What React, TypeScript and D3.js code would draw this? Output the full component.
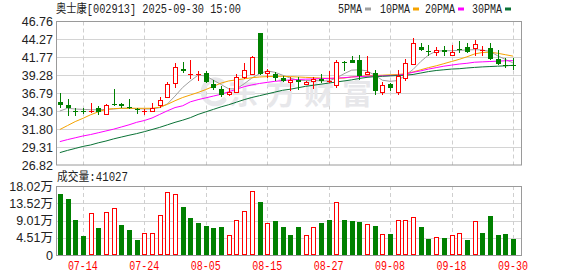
import React from 'react';
import * as d3 from 'd3';

const dates = [
  '07-09','07-10','07-11','07-14','07-15','07-16','07-17','07-18','07-21','07-22','07-23','07-24','07-25','07-28','07-29','07-30','07-31',
  '08-01','08-04','08-05','08-06','08-07','08-08','08-11','08-12','08-13','08-14','08-15','08-18','08-19','08-20','08-21','08-22','08-25','08-26','08-27','08-28','08-29',
  '09-01','09-02','09-03','09-04','09-05','09-08','09-09','09-10','09-11','09-12','09-15','09-16','09-17','09-18','09-19','09-22','09-23','09-24','09-25','09-26','09-29','09-30',
];

const openP = [35.6,35.1,34.35,34.35,34.17,34.8,33.9,35.33,35.25,34.87,34.6,34.22,34.3,35.1,36.25,38.23,40.21,39.29,39.33,39.61,
  38.08,37.4,36.75,36.95,39.1,39.5,45.15,39.56,39.47,38.9,38.4,38.6,38.05,38.45,38.75,38.4,37.9,41.15,41.36,41.36,
  39.47,39.61,36.9,38.09,37.0,38.92,40.9,43.21,42.61,42.52,42.75,42.15,42.93,43.21,43.07,42.7,43.07,41.6,40.76,40.76];
const highP = [36.85,35.95,34.7,34.77,35.47,35.03,35.35,37.33,35.47,35.93,34.77,34.54,35.47,36.2,38.37,40.99,41.13,41.36,39.84,39.84,
  38.6,37.8,37.55,39.4,41.0,41.91,45.15,40.2,39.8,39.25,39.1,39.1,38.5,39.1,39.4,39.9,41.45,41.22,41.95,42.14,
  41.91,40.03,38.37,38.23,40.03,41.59,44.45,43.76,43.53,43.16,43.3,43.53,43.99,43.76,44.22,43.3,43.76,42.84,41.68,41.68];
const lowP = [34.8,33.6,33.62,33.94,33.98,33.8,33.76,34.95,34.77,34.6,33.94,33.76,34.22,34.77,36.16,37.53,39.61,38.83,38.46,38.23,
  37.3,36.25,36.45,36.8,38.75,39.3,39.3,38.95,38.5,38.35,37.15,37.2,37.9,37.4,38.2,38.25,37.5,39.84,40.95,38.69,
  39.3,36.6,36.6,37.08,36.6,38.46,40.76,42.61,41.91,41.91,41.91,41.91,42.38,42.38,41.97,41.91,41.45,40.67,40.3,40.07];
const closeP = [35.1,34.7,34.25,34.2,34.3,34.15,35.2,35.15,34.95,34.72,34.48,34.3,34.77,35.8,38.09,40.4,39.84,39.47,39.47,38.37,
  37.5,36.6,36.9,39.0,40.07,41.78,39.45,39.88,38.9,38.45,38.68,38.35,38.35,38.8,38.45,38.55,41.2,41.0,41.04,39.15,
  39.7,37.08,37.96,37.54,39.15,40.99,43.76,42.84,42.52,42.8,42.47,42.47,42.8,42.52,43.62,42.84,41.6,40.85,40.67,40.6];

const ma5 = [34.33,34.7,34.6,34.55,34.5,34.5,34.55,34.6,34.7,34.7,34.65,34.6,34.6,34.8,35.3,36.4,37.6,38.5,39.3,39.2,
  38.6,38.0,37.4,37.4,38.1,38.9,39.5,39.9,39.7,39.3,38.9,38.6,38.55,38.6,38.5,38.5,38.9,39.5,40.0,40.05,
  39.9,39.3,38.6,38.45,38.55,39.3,40.1,41.2,42.1,42.65,42.7,42.7,42.75,42.8,42.85,42.8,42.6,42.0,41.5,41.0];
const ma10 = [31.75,32.3,32.85,33.3,33.8,34.2,34.55,34.65,34.7,34.7,34.7,34.7,34.7,34.85,35.25,35.75,36.2,36.55,36.9,37.3,
  37.75,38.2,38.5,38.65,38.8,38.95,39.05,39.1,39.15,39.15,39.1,39.05,39.0,38.95,38.9,38.85,38.85,38.9,39.05,39.15,
  39.2,39.25,39.3,39.35,39.4,39.5,39.75,40.05,40.35,40.6,40.9,41.2,41.5,41.85,42.25,42.45,42.5,42.35,42.15,41.95];
const ma20 = [30.07,30.35,30.6,30.85,31.05,31.3,31.55,31.8,32.1,32.4,32.75,33.0,33.35,33.85,34.35,34.8,35.05,35.6,35.9,36.15,
  36.4,36.65,37.0,37.35,37.7,37.95,38.15,38.3,38.45,38.55,38.65,38.7,38.75,38.78,38.82,38.86,38.9,38.95,39.05,39.1,
  39.15,39.2,39.2,39.25,39.3,39.45,39.7,39.9,40.15,40.35,40.55,40.7,40.85,40.95,41.1,41.15,41.2,41.25,41.3,41.32];
const ma30 = [28.54,28.85,29.12,29.4,29.6,29.9,30.15,30.45,30.7,30.95,31.18,31.45,31.75,32.05,32.4,32.75,33.05,33.4,33.85,34.2,
  34.55,34.9,35.2,35.55,35.9,36.2,36.45,36.7,36.95,37.2,37.35,37.55,37.75,37.9,38.05,38.2,38.35,38.5,38.65,38.85,
  39.0,39.1,39.15,39.2,39.25,39.3,39.4,39.6,39.8,39.95,40.05,40.15,40.2,40.3,40.38,40.45,40.5,40.55,40.6,40.67];

// volume in 万手
const volume = [15.93,14.62,9.14,4.96,10.88,6.96,11.14,12.19,7.83,6.53,3.92,5.66,5.66,10.36,16.54,15.84,12.54,9.66,8.36,7.57,
  7.05,7.31,5.14,9.05,11.4,16.63,13.84,8.36,8.88,7.31,5.22,7.31,5.14,7.23,8.36,9.14,13.75,9.14,8.88,8.62,
  8.1,7.57,5.48,5.48,9.05,9.05,9.84,7.31,4.18,4.79,4.44,5.14,5.66,3.92,8.79,5.75,10.18,5.22,5.48,4.1];
const volumeDir = 'GGGGRGRRGGGRRRRRGGGGGGRRRRGRGGGGRRGGRGGGRGRGRRRGGRGRRGRGGGGG'.split('');

const priceTicks = [46.76, 44.27, 41.77, 39.28, 36.79, 34.30, 31.80, 29.31, 26.82];
const volTicks = [18.02, 13.52, 9.01, 4.51, 0];
const xTickLabels = ['07-14','07-24','08-05','08-15','08-27','09-08','09-18','09-30'];

const legendNames = ['5PMA', '10PMA', '20PMA', '30PMA'];
const maColors = ['#a0a0a0', '#f5a300', '#ff00ff', '#0a7236'];

const RED = '#ff0000';
const GREEN = '#008000';
const L = 56, R = 522;
const mainTop = 21.5, mainBot = 165;
const volTop = 186, volBot = 255;
const MONO = '"Liberation Mono", "Noto Sans CJK SC", monospace';
const SANS = '"Liberation Sans", Arial, "Noto Sans CJK SC", sans-serif';

export default function App() {
  const n = dates.length;
  const x = d3.scaleBand<number>().domain(d3.range(n)).range([L, L + 7.68 * n]);
  const cx = (i: number) => (x(i) as number) + x.bandwidth() / 2;
  const y = d3.scaleLinear().domain([26.82, 46.76]).range([mainBot, mainTop]);
  const yv = d3.scaleLinear().domain([0, 18.02]).range([volBot, volTop]);
  const lineGen = d3.line<number>().x((_, i) => cx(i)).y((d) => y(d));
  const mas = [ma5, ma10, ma20, ma30];

  const tickIdx = xTickLabels.map((t) => dates.indexOf(t));

  const candles = d3.range(n).map((i) => {
    const o = openP[i], c = closeP[i], h = highP[i], l = lowP[i];
    const up = c >= o;
    const px = Math.round(cx(i));
    const yTop = Math.round(y(Math.max(o, c)));
    const yBot = Math.round(y(Math.min(o, c)));
    const yH = Math.round(y(h));
    const yL = Math.round(y(l));
    const col = up ? RED : GREEN;
    const bodyH = yBot - yTop;
    if (bodyH < 2) {
      return (
        <g key={i}>
          <line x1={px + 0.5} x2={px + 0.5} y1={yH} y2={yL} stroke={col} />
          <line x1={px - 2} x2={px + 3} y1={yTop + 0.5} y2={yTop + 0.5} stroke={col} />
        </g>
      );
    }
    if (up) {
      return (
        <g key={i}>
          <line x1={px + 0.5} x2={px + 0.5} y1={yH} y2={yTop} stroke={col} />
          <line x1={px + 0.5} x2={px + 0.5} y1={yBot + 1} y2={yL} stroke={col} />
          <rect x={px - 1.5} y={yTop + 0.5} width={4} height={bodyH} fill="#fff" stroke={col} />
        </g>
      );
    }
    return (
      <g key={i}>
        <line x1={px + 0.5} x2={px + 0.5} y1={yH} y2={yL} stroke={col} />
        <rect x={px - 2} y={yTop} width={5} height={bodyH} fill={col} />
      </g>
    );
  });

  const volBars = d3.range(n).map((i) => {
    const px = Math.round(cx(i));
    const top = Math.round(yv(volume[i]));
    if (volumeDir[i] === 'R') {
      return <rect key={i} x={px - 1.5} y={top + 0.5} width={4} height={volBot - top - 1} fill="#fff" stroke={RED} />;
    }
    return <rect key={i} x={px - 2} y={top} width={5} height={volBot - top} fill={GREEN} />;
  });

  const legendX = [338, 380, 425, 472];
  const legendW = [24, 30, 30, 30];

  return (
    <svg width={578} height={276} style={{ position: 'fixed', left: 0, top: 0, background: '#fff' }}>
      <rect x={0} y={0} width={578} height={276} fill="#fff" />
      {/* title */}
      <text x={56} y={13} fontFamily={MONO} fontSize={12} fill="#222" textLength={185} lengthAdjust="spacingAndGlyphs">
        奥士康[002913] 2025-09-30 15:00
      </text>
      {/* legend */}
      {legendNames.map((name, k) => (
        <g key={name}>
          <text x={legendX[k]} y={12.5} fontFamily={MONO} fontSize={12} fill="#222" textLength={legendW[k]} lengthAdjust="spacingAndGlyphs">
            {name}
          </text>
          <rect x={legendX[k] + legendW[k] + 3} y={7.5} width={6} height={3} fill={maColors[k]} />
        </g>
      ))}

      {/* main grid */}
      {priceTicks.slice(1, -1).map((t) => (
        <line key={t} x1={L} x2={R} y1={Math.round(y(t)) + 0.5} y2={Math.round(y(t)) + 0.5} stroke="#d4d4d4" />
      ))}
      {volTicks.slice(1, -1).map((t) => (
        <line key={t} x1={L} x2={R} y1={Math.round(yv(t)) + 0.5} y2={Math.round(yv(t)) + 0.5} stroke="#d4d4d4" />
      ))}
      {tickIdx.map((i) => (
        <g key={i}>
          <line x1={Math.round(cx(i)) + 0.5} x2={Math.round(cx(i)) + 0.5} y1={mainTop} y2={mainBot} stroke="#cfcfcf" strokeDasharray="4,3" />
          <line x1={Math.round(cx(i)) + 0.5} x2={Math.round(cx(i)) + 0.5} y1={volTop} y2={volBot} stroke="#cfcfcf" strokeDasharray="4,3" />
        </g>
      ))}

      {/* watermark */}
      <path d="M 222 82 A 12 12 0 1 0 224 100" fill="none" stroke="#e7e7ea" strokeWidth={5} strokeLinecap="round" />
      <text x={228} y={104} fontFamily='"Noto Sans CJK SC", sans-serif' fontWeight={700} fontSize={30} fill="#e7e7ea" textLength={144} lengthAdjust="spacing">
        东方财富
      </text>

      {/* frames */}
      <rect x={L + 0.5} y={mainTop} width={R - L - 1} height={mainBot - mainTop} fill="none" stroke="#9a9a9a" />
      <rect x={L + 0.5} y={volTop + 0.5} width={R - L - 1} height={volBot - volTop} fill="none" stroke="#9a9a9a" />

      {/* MA lines */}
      {mas.map((m, k) => (
        <path key={k} d={lineGen(m) || ''} fill="none" stroke={maColors[k]} strokeWidth={1} />
      ))}
      {/* candles */}
      {candles}
      {/* volume */}
      {volBars}

      {/* y labels */}
      {priceTicks.map((t) => (
        <text key={t} x={53} y={y(t)} dy="0.36em" textAnchor="end" fontFamily={SANS} fontSize={12.5} fill="#222">
          {t.toFixed(2)}
        </text>
      ))}
      {volTicks.map((t) => (
        <text key={t} x={53} y={yv(t)} dy="0.36em" textAnchor="end" fontFamily={SANS} fontSize={12.5} fill="#222">
          {t === 0 ? '0' : `${t.toFixed(2)}万`}
        </text>
      ))}
      <text x={57} y={181} fontFamily={MONO} fontSize={12} fill="#222" textLength={71} lengthAdjust="spacingAndGlyphs">
        成交量:41027
      </text>
      {/* x labels */}
      {tickIdx.map((i, k) => (
        <text key={i} x={cx(i) - 15} y={270} fontFamily={MONO} fontSize={12} fill={RED} textLength={30} lengthAdjust="spacingAndGlyphs">
          {xTickLabels[k]}
        </text>
      ))}
    </svg>
  );
}
